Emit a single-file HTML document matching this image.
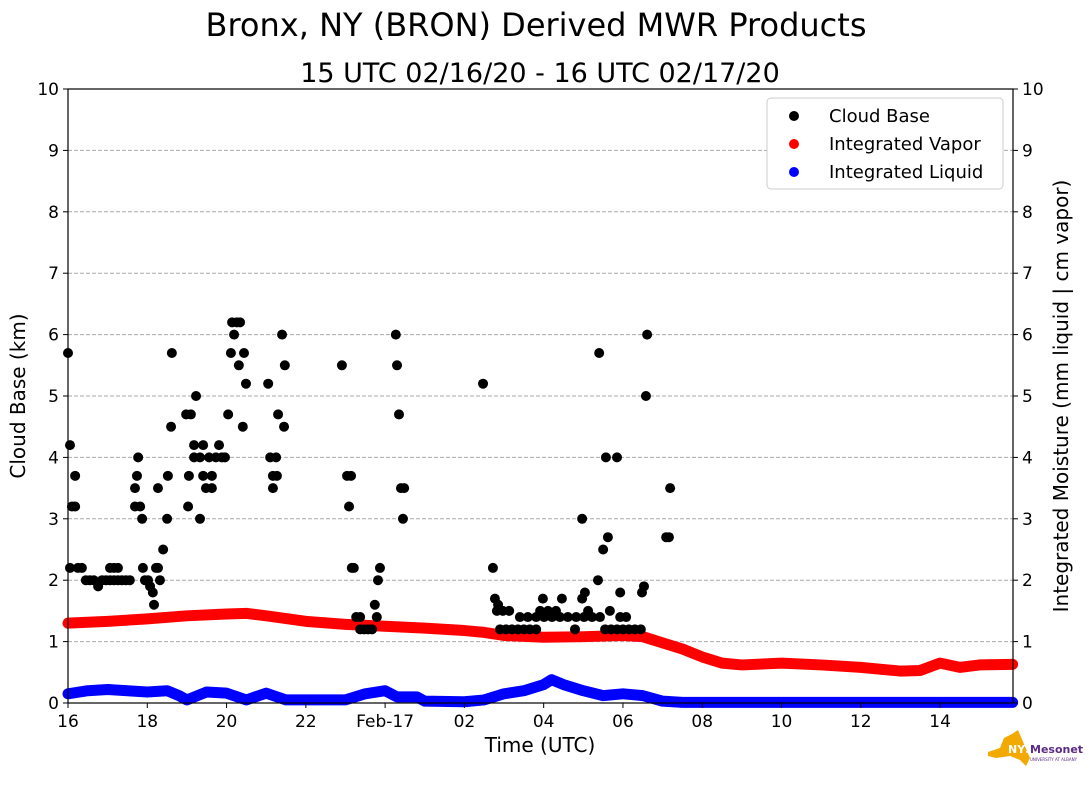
<!DOCTYPE html>
<html><head><meta charset="utf-8"><style>
body{margin:0;background:#fff;}
svg text{font-family:"DejaVu Sans","Liberation Sans",sans-serif;}
</style></head><body>
<svg id="chart" width="1089" height="804" xmlns="http://www.w3.org/2000/svg">
<text x="536" y="36" font-size="32" text-anchor="middle">Bronx, NY (BRON) Derived MWR Products</text>
<text x="540" y="82" font-size="27" text-anchor="middle">15 UTC 02/16/20 - 16 UTC 02/17/20</text>
<g id="grid"></g>
<g id="marks"></g>
<g id="axes"></g>
<text x="540" y="752" font-size="20" text-anchor="middle">Time (UTC)</text>
<text transform="translate(25,396) rotate(-90)" font-size="20" text-anchor="middle">Cloud Base (km)</text>
<text transform="translate(1068,396) rotate(-90)" font-size="20" text-anchor="middle">Integrated Moisture (mm liquid | cm vapor)</text>
<g>
<rect x="767" y="98" width="236" height="91" rx="4" fill="#fff" stroke="#ccc"/>
<circle cx="794" cy="116" r="5" fill="#000"/><text x="829" y="122" font-size="18">Cloud Base</text>
<circle cx="794" cy="144" r="5" fill="#f00"/><text x="829" y="150" font-size="18">Integrated Vapor</text>
<circle cx="794" cy="172" r="5" fill="#00f"/><text x="829" y="178" font-size="18">Integrated Liquid</text>
</g>
<g>
<path d="M988 752 L1000 748 L1004 738 L1012 734 L1018 730 L1024 744 L1030 758 L1026 766 L1020 760 L1010 756 L996 758 L988 756 Z" fill="#f2a900"/>
<text x="1008" y="753" font-size="11" font-weight="bold" fill="#fff">NYS</text>
<text x="1030" y="753" font-size="11" font-weight="bold" fill="#5b2a86">Mesonet</text>
<text x="1030" y="761" font-size="4" fill="#5b2a86">UNIVERSITY AT ALBANY</text>
</g>
</svg>
<script>
const xTickLabels=["16","18","20","22","Feb-17","02","04","06","08","10","12","14"];
const yTickLabels=["0","1","2","3","4","5","6","7","8","9","10"];
const cbTime=[
0,0.05,0.05,0.1,0.18,0.18,0.25,0.35,0.45,0.55,
0.65,0.76,0.86,0.96,1.06,1.16,1.26,1.36,1.46,1.56,
1.06,1.16,1.26,1.69,1.69,1.74,1.77,1.82,1.87,1.89,
1.94,2.02,2.07,2.14,2.17,2.22,2.27,2.27,2.32,2.4,
2.5,2.52,2.6,2.62,2.98,3.03,3.05,3.1,3.18,3.23,
3.18,3.33,3.33,3.41,3.41,3.48,3.56,3.63,3.63,3.73,
3.81,3.88,3.96,4.04,4.11,4.14,4.19,4.26,4.34,4.31,
4.41,4.44,4.49,5.05,5.1,5.17,5.17,5.25,5.3,5.27,
5.4,5.47,5.45,6.91,7.04,7.09,7.14,7.16,7.21,7.27,
7.37,7.47,7.57,7.67,7.37,7.74,7.82,7.87,7.79,8.27,
8.3,8.35,8.4,8.48,8.45,
10.90,11.05,11.20,11.35,11.50,11.65,11.81,12.79,13.55,13.70,13.85,14.0,14.15,14.30,14.45,
11.40,11.60,11.81,12.01,12.21,12.41,12.61,12.82,13.02,13.22,13.42,13.93,14.08,
10.82,10.97,11.13,11.91,12.11,12.31,13.12,13.67,
10.47,10.72,10.77,10.85,11.98,12.46,12.97,12.97,13.04,13.37,
13.40,13.50,13.57,13.62,13.85,13.93,14.48,14.53,14.58,14.61,
15.09,15.16,15.19];
const cbHeight=[
5.7,4.2,2.2,3.2,3.2,3.7,2.2,2.2,2.0,2.0,
2.0,1.9,2.0,2.0,2.0,2.0,2.0,2.0,2.0,2.0,
2.2,2.2,2.2,3.2,3.5,3.7,4.0,3.2,3.0,2.2,
2.0,2.0,1.9,1.8,1.6,2.2,3.5,2.2,2.0,2.5,
3.0,3.7,4.5,5.7,4.7,3.2,3.7,4.7,4.2,5.0,
4.0,4.0,3.0,4.2,3.7,3.5,4.0,3.7,3.5,4.0,
4.2,4.0,4.0,4.7,5.7,6.2,6.0,6.2,6.2,5.5,
4.5,5.7,5.2,5.2,4.0,3.7,3.5,4.0,4.7,3.7,
6.0,5.5,4.5,5.5,3.7,3.2,3.7,2.2,2.2,1.4,
1.2,1.2,1.2,1.2,1.4,1.6,2.0,2.2,1.4,6.0,
5.5,4.7,3.5,3.5,3.0,
1.2,1.2,1.2,1.2,1.2,1.2,1.2,1.2,1.2,1.2,1.2,1.2,1.2,1.2,1.2,
1.4,1.4,1.4,1.4,1.4,1.4,1.4,1.4,1.4,1.4,1.4,1.4,1.4,
1.5,1.5,1.5,1.5,1.5,1.5,1.5,1.5,
5.2,2.2,1.7,1.6,1.7,1.7,1.7,3.0,1.8,2.0,
5.7,2.5,4.0,2.7,4.0,1.8,1.8,1.9,5.0,6.0,
2.7,2.7,3.5];
const vapTime=[0,1,2,3,4,4.5,5,6,7,8,9,10,10.5,11,12,13,14,14.5,15,15.5,16,16.5,17,18,19,20,21,21.5,22,22.5,23,23.83];
const vapValue=[1.30,1.33,1.37,1.42,1.45,1.46,1.42,1.33,1.28,1.25,1.22,1.18,1.15,1.10,1.07,1.08,1.10,1.08,0.98,0.88,0.75,0.65,0.62,0.65,0.62,0.58,0.52,0.53,0.65,0.58,0.62,0.63];
const liqTime=[0,0.5,1,1.5,2,2.5,2.8,3,3.5,4,4.5,5,5.5,6,7,7.5,8,8.3,8.8,9,10,10.5,11,11.5,12,12.2,12.5,13,13.5,14,14.5,15,15.5,23.83];
const liqValue=[0.15,0.2,0.22,0.2,0.18,0.2,0.12,0.05,0.18,0.16,0.05,0.16,0.05,0.05,0.05,0.15,0.2,0.1,0.1,0.03,0.02,0.05,0.15,0.2,0.3,0.38,0.3,0.2,0.12,0.15,0.12,0.03,0.01,0.01];
const X0=68,X1=1013,Y0=703,Y1=89,HPX=39.64;
const xs=h=>X0+h*HPX, ys=v=>Y0-(v/10)*(Y0-Y1);
const NS="http://www.w3.org/2000/svg";
function mk(t,a,p){const e=document.createElementNS(NS,t);for(const k in a)e.setAttribute(k,a[k]);p.appendChild(e);return e;}
const grid=document.getElementById('grid'),marks=document.getElementById('marks'),axes=document.getElementById('axes');
yTickLabels.forEach((l,i)=>{const y=ys(+l);
 if(i>0&&i<10){const g=mk('line',{x1:X0,x2:X1,y1:y,y2:y,stroke:'#aaa','stroke-dasharray':'4,2'},grid);
 
 }
 mk('line',{x1:X0-5,x2:X0,y1:y,y2:y,stroke:'#000'},axes);
 mk('line',{x1:X1,x2:X1+5,y1:y,y2:y,stroke:'#000'},axes);
 const t1=mk('text',{x:X0-9,y:y+6,'font-size':17,'text-anchor':'end'},axes);t1.textContent=l;
 
 
 const t2=mk('text',{x:X1+9,y:y+6,'font-size':17},axes);t2.textContent=l;
 
 
});
xTickLabels.forEach((l,i)=>{const x=xs(i*2);
 mk('line',{x1:x,x2:x,y1:Y0,y2:Y0+5,stroke:'#000'},axes);
 const t=mk('text',{x:x,y:Y0+24,'font-size':17,'text-anchor':'middle'},axes);t.textContent=l;
 
 
});
const fr=mk('rect',{x:X0,y:Y1,width:X1-X0,height:Y0-Y1,fill:'none',stroke:'#000','stroke-width':1.2},axes);


function series(T,V,col,name){
 const pts=T.map((t,i)=>xs(t)+','+ys(V[i])).join(' ');
 const pl=mk('polyline',{points:pts,fill:'none',stroke:col,'stroke-width':11,'stroke-linecap':'round','stroke-linejoin':'round'},marks);
 
 
}
series(vapTime,vapValue,'#f00','integrated-vapor-series');
series(liqTime,liqValue,'#00f','integrated-liquid-series');
cbTime.forEach((t,i)=>{const c=mk('circle',{cx:xs(t),cy:ys(cbHeight[i]),r:5,fill:'#000'},marks);
 
 
});
</script>
</body></html>
